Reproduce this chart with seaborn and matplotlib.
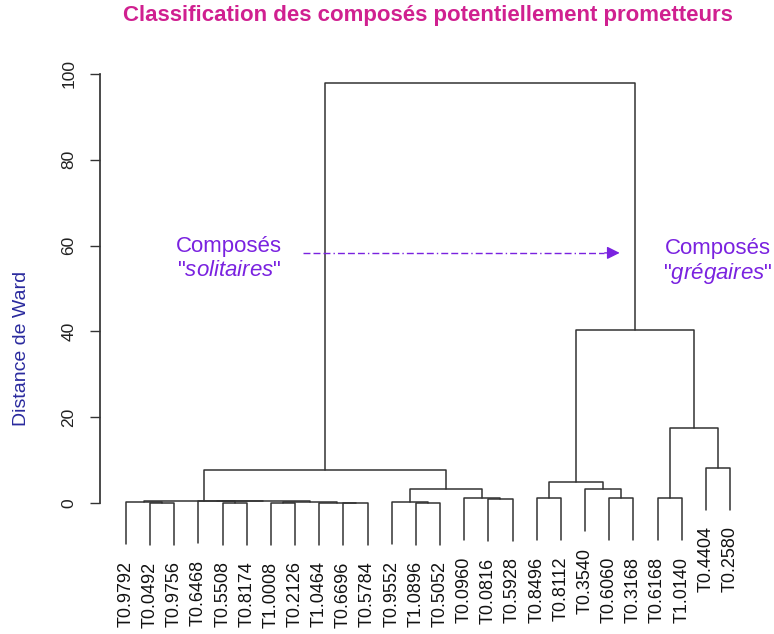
import pandas as pd
import matplotlib.pyplot as plt
import seaborn as sns

sns.set_theme(style="white")
plt.rcParams["font.family"] = ["Liberation Sans", "DejaVu Sans"]
plt.rcParams["mathtext.fontset"] = "custom"
plt.rcParams["mathtext.it"] = "Liberation Sans:italic"

# leaf order as drawn (left to right)
leaves = [
    "T0.9792", "T0.0492", "T0.9756", "T0.6468", "T0.5508", "T0.8174",
    "T1.0008", "T0.2126", "T1.0464", "T0.6696", "T0.5784", "T0.9552",
    "T1.0896", "T0.5052", "T0.0960", "T0.0816", "T0.5928", "T0.8496",
    "T0.8112", "T0.3540", "T0.6060", "T0.3168", "T0.6168", "T1.0140",
    "T0.4404", "T0.2580",
]

# merges: (child a, child b, Ward height); int = index of an earlier merge
merges = [
    ("T0.0492", "T0.9756", 0.05),
    ("T0.9792", 0, 0.2),
    ("T0.5508", "T0.8174", 0.1),
    ("T0.6468", 2, 0.35),
    ("T1.0008", "T0.2126", 0.05),
    ("T0.6696", "T0.5784", 0.05),
    ("T1.0464", 5, 0.1),
    (4, 6, 0.15),
    (3, 7, 0.35),
    (1, 8, 0.5),
    ("T1.0896", "T0.5052", 0.1),
    ("T0.9552", 10, 0.25),
    ("T0.0816", "T0.5928", 1.0),
    ("T0.0960", 12, 1.2),
    (11, 13, 3.3),
    (9, 14, 7.6),
    ("T0.8496", "T0.8112", 1.1),
    ("T0.6060", "T0.3168", 1.1),
    ("T0.3540", 17, 3.3),
    (16, 18, 4.9),
    ("T0.6168", "T1.0140", 1.1),
    ("T0.4404", "T0.2580", 8.2),
    (20, 21, 17.5),
    (19, 22, 40.3),
    (15, 23, 97.9),
]

HANG = 0.1 * max(h for _, _, h in merges)

# build the dendrogram polylines (R plot.hclust style, hang = 0.1)
pos = {name: i + 1 for i, name in enumerate(leaves)}
leaf_end = {}
center, height, rows = [], [], []
for k, (a, b, h) in enumerate(merges):
    pts = []
    for child in (a, b):
        if isinstance(child, str):
            pts.append((pos[child], h - HANG))
            leaf_end[child] = h - HANG
        else:
            pts.append((center[child], height[child]))
    (xa, ya), (xb, yb) = pts
    for x, y in [(xa, ya), (xa, h), (xb, h), (xb, yb)]:
        rows.append({"merge": k, "x": x, "y": y})
    center.append((xa + xb) / 2)
    height.append(h)
segs = pd.DataFrame(rows)

fig = plt.figure(figsize=(7.74, 6.34), dpi=100)
ax = fig.add_axes([100 / 774, 0, 666 / 774, 594 / 634])

sns.lineplot(
    data=segs, x="x", y="y", units="merge", estimator=None, sort=False,
    color="#333333", lw=1.1, ax=ax, legend=False,
)

for name in leaves:
    ax.annotate(
        name, xy=(pos[name], leaf_end[name]), xytext=(0, -12),
        textcoords="offset points", rotation=90, ha="center", va="top",
        fontsize=13, color="#111111", annotation_clip=False,
    )

# axis in R style
px = 24.16
ax.set_xlim(1 - 26 / px, 1 + 640 / px)
ax.set_ylim(-131 / 4.29, 100 + 34 / 4.29)
for s in ["top", "right", "bottom"]:
    ax.spines[s].set_visible(False)
ax.spines["left"].set_bounds(0, 100)
ax.spines["left"].set_color("#333333")
ax.set_xticks([])
ax.set_yticks(range(0, 101, 20))
ax.tick_params(axis="y", left=True, length=7, width=1, color="#333333",
               pad=10, labelsize=12.5, labelcolor="#222222")
plt.setp(ax.get_yticklabels(), rotation=90, va="center")
ax.set_xlabel("")
ax.set_ylabel("")

# annotation: solitary vs gregarious
violet = "#7a22e0"
ax.plot([8.33, 20.8], [58.3, 58.3], color=violet, lw=1,
        linestyle=(0, (5, 2.2, 5, 2.2, 5, 2.2, 1, 2.2)))
ax.annotate("", xy=(21.55, 58.3), xytext=(20.7, 58.3),
            arrowprops=dict(arrowstyle="-|>", color=violet, lw=1,
                            mutation_scale=19))
ax.text(5.26, 59.9, "Composés", color=violet, fontsize=16,
        ha="center", va="center")
ax.text(5.26, 54.1, '"$\\mathit{solitaires}$"', color=violet, fontsize=16,
        ha="center", va="center")
ax.text(25.5, 59.4, "Composés", color=violet, fontsize=16,
        ha="center", va="center")
ax.text(25.5, 53.6, '"$\\mathit{grégaires}$"', color=violet, fontsize=16,
        ha="center", va="center")

fig.text(22 / 774, 1 - 348 / 634, "Distance de Ward", rotation=90,
         ha="center", va="center", fontsize=14, color="#2a2a9e")
fig.text(428 / 774, 1 - 15 / 634,
         "Classification des composés potentiellement prometteurs",
         ha="center", va="center", fontsize=16, fontweight="bold",
         color="#d02090")

fig.savefig("out.png", dpi=100)
